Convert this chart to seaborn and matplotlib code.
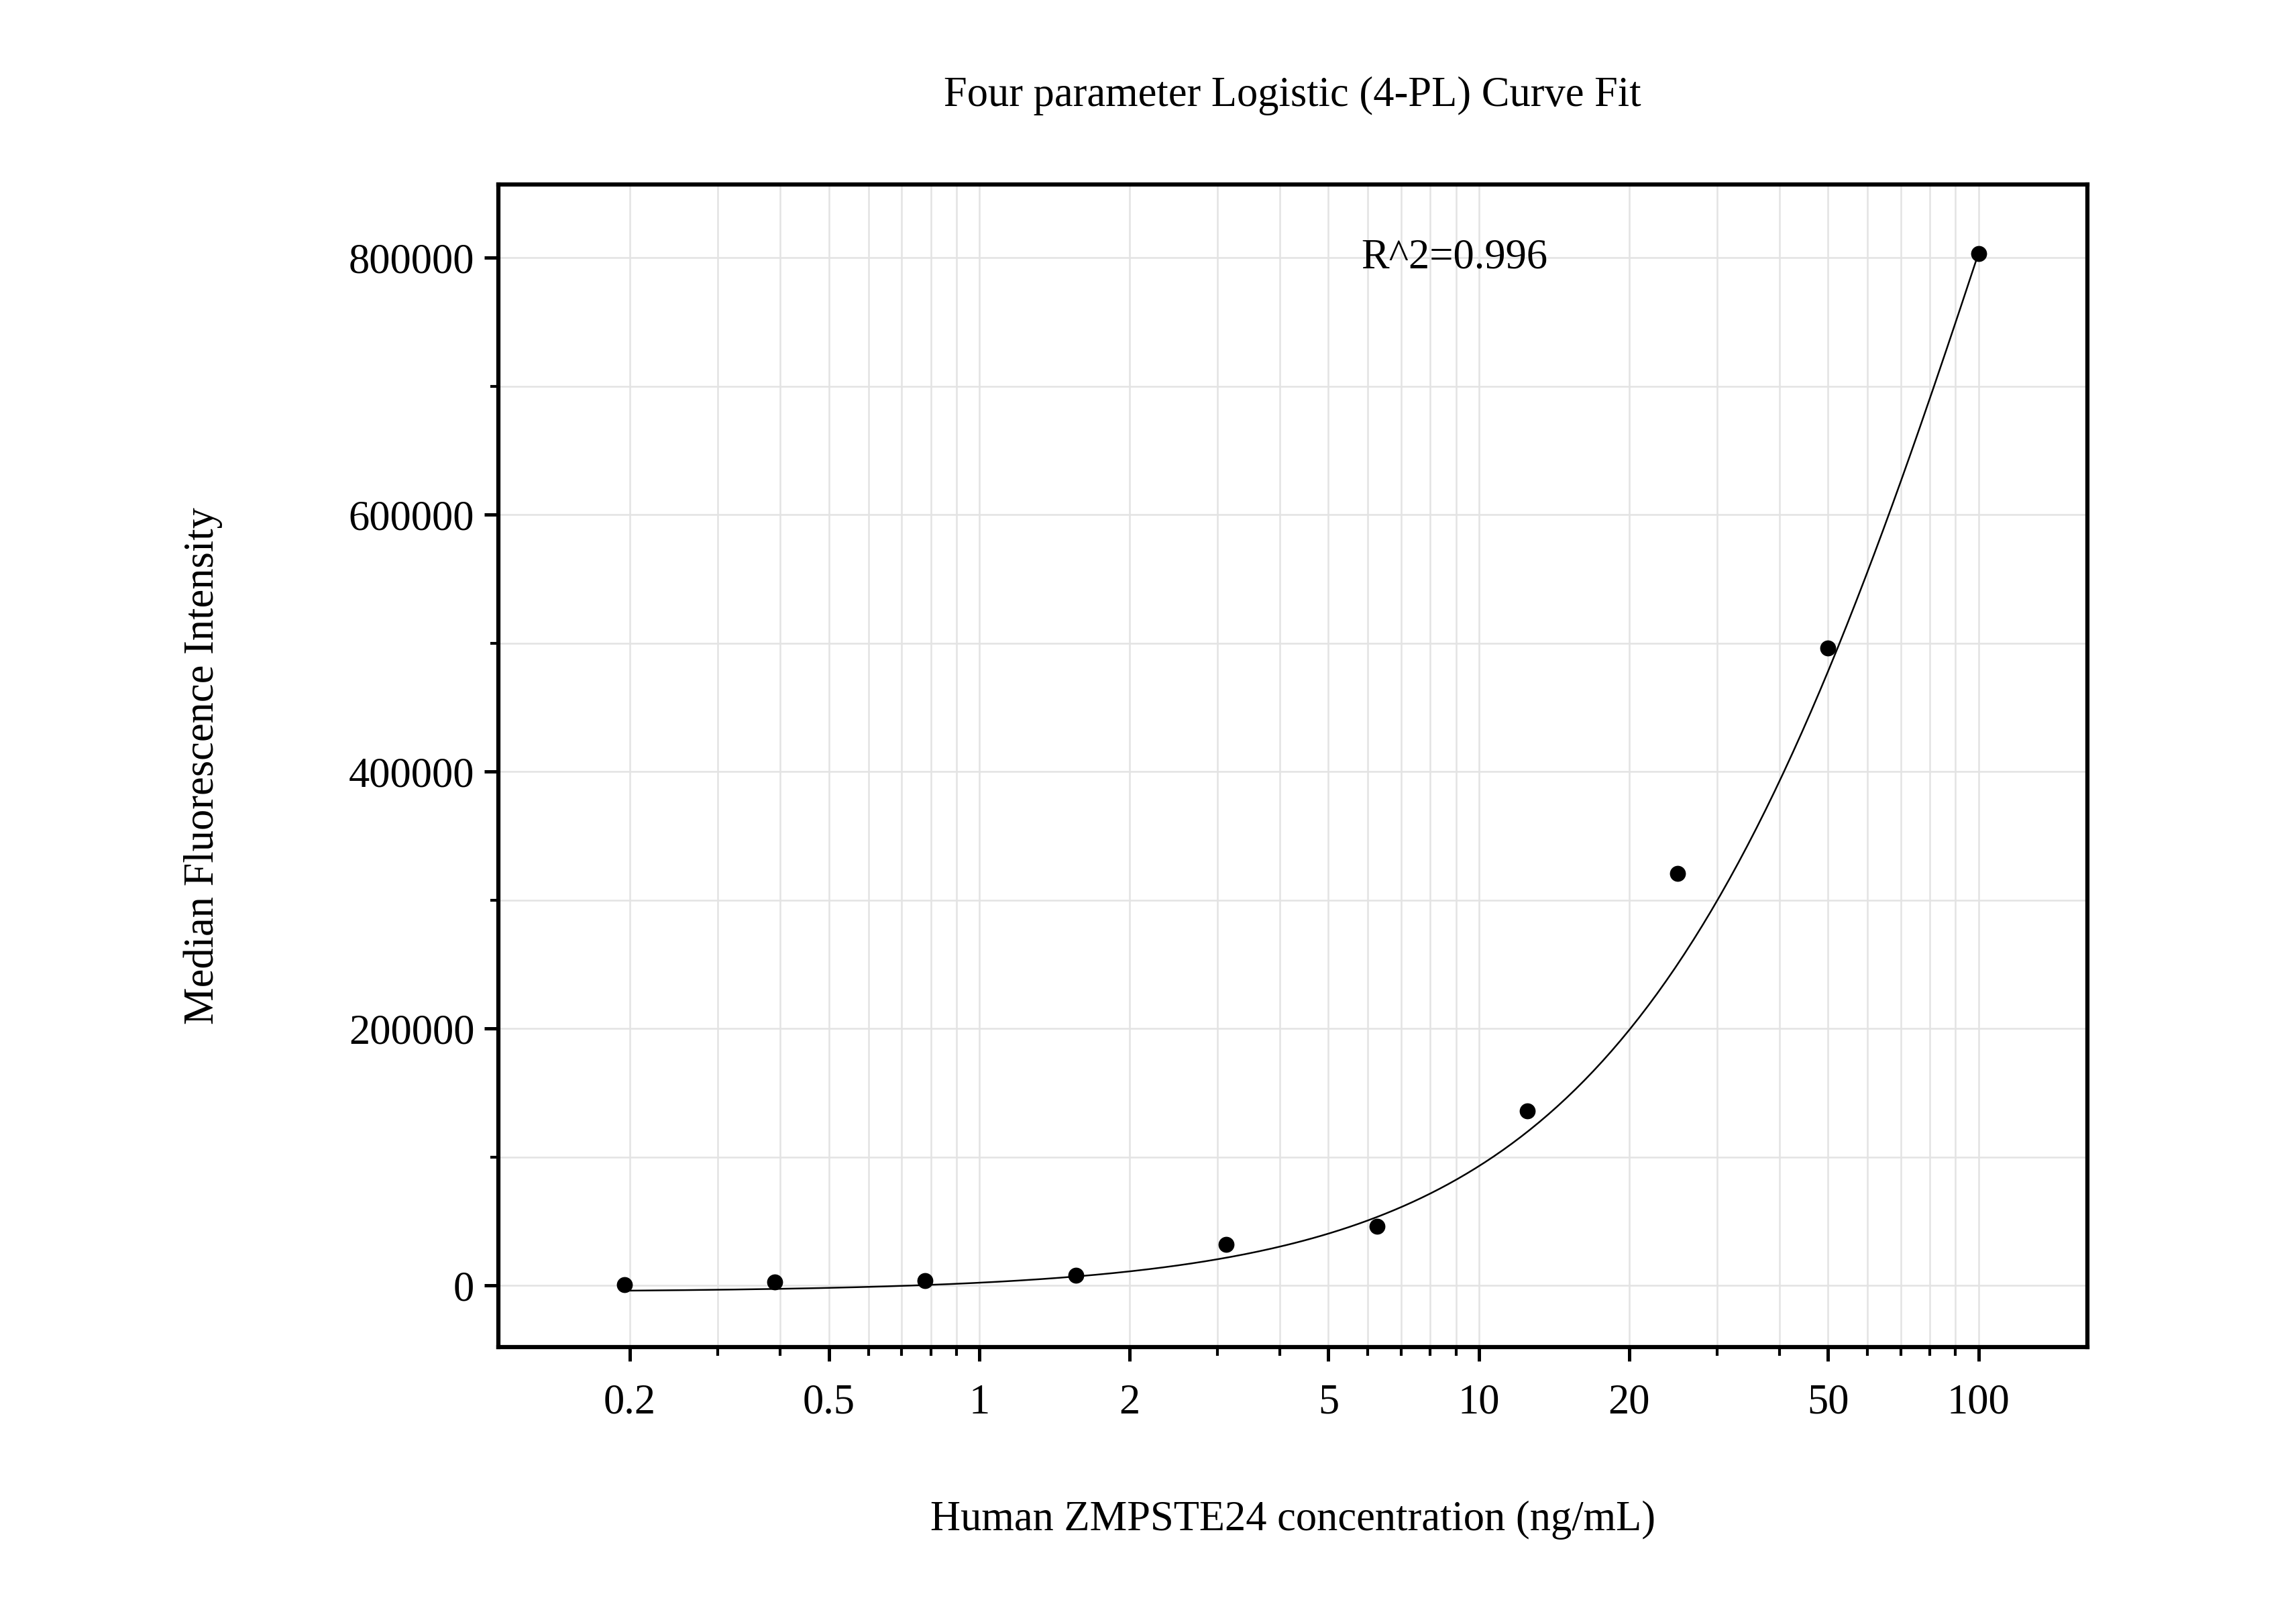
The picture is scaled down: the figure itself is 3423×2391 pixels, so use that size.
import numpy as np
import pandas as pd
import matplotlib
matplotlib.use("Agg")
import matplotlib.pyplot as plt
from matplotlib.ticker import FixedLocator, NullFormatter, LogLocator
import seaborn as sns

# datos
concentracion = [0.195, 0.39, 0.78, 1.5625, 3.125, 6.25, 12.5, 25, 50, 100]
mfi = [1000, 3000, 4000, 8000, 32000, 46000, 136000, 321000, 496000, 803000]

# parametros del ajuste 4-PL (estimados)
A, B, C, D = -5000, 1.15, 120.0, 1.8e6

df = pd.DataFrame({"x": concentracion, "y": mfi})
xs = np.logspace(np.log10(0.195), np.log10(100), 300)
curva = pd.DataFrame({"x": xs, "y": D + (A - D) / (1 + (xs / C) ** B)})

sns.set_style("white")
plt.rcParams["font.family"] = "Liberation Serif"
plt.rcParams["text.color"] = "black"
plt.rcParams["axes.labelcolor"] = "black"
plt.rcParams["xtick.color"] = "black"
plt.rcParams["ytick.color"] = "black"
fig = plt.figure(figsize=(11.41, 7.97), dpi=300)
ax = fig.add_axes([0.217, 0.16, 0.692, 0.725])

sns.lineplot(data=curva, x="x", y="y", color="black", linewidth=0.6, ax=ax)
sns.scatterplot(data=df, x="x", y="y", color="black", s=28, edgecolor="black", zorder=3, ax=ax)

ax.set_xscale("log")
ax.set_xlim(0.109, 165)
ax.set_ylim(-48000, 857000)
ax.xaxis.set_major_locator(FixedLocator([0.2, 0.5, 1, 2, 5, 10, 20, 50, 100]))
ax.set_xticklabels(["0.2", "0.5", "1", "2", "5", "10", "20", "50", "100"])
ax.xaxis.set_minor_locator(LogLocator(base=10, subs=np.arange(1, 10)))
ax.xaxis.set_minor_formatter(NullFormatter())
ax.yaxis.set_major_locator(FixedLocator([0, 200000, 400000, 600000, 800000]))
ax.yaxis.set_minor_locator(FixedLocator([100000, 300000, 500000, 700000]))
ax.grid(True, which="both", color="#e3e3e3", linewidth=0.6)
ax.set_axisbelow(True)
for s in ax.spines.values():
    s.set_linewidth(1.5)
    s.set_color("black")
ax.tick_params(which="major", direction="out", length=5, width=1.2, labelsize=15, bottom=True, left=True)
ax.tick_params(which="minor", direction="out", length=3, width=1.0, bottom=True, left=True)
ax.tick_params(axis="x", pad=8)

ax.set_xlabel("Human ZMPSTE24 concentration (ng/mL)", fontsize=15, labelpad=28)
ax.set_ylabel("Median Fluorescence Intensity", fontsize=15, labelpad=45)
ax.set_title("Four parameter Logistic (4-PL) Curve Fit", fontsize=15, pad=28)
ax.text(0.543, 800000, "R^2=0.996", fontsize=15, va="center", transform=ax.get_yaxis_transform())

fig.savefig("out.png", dpi=300)
